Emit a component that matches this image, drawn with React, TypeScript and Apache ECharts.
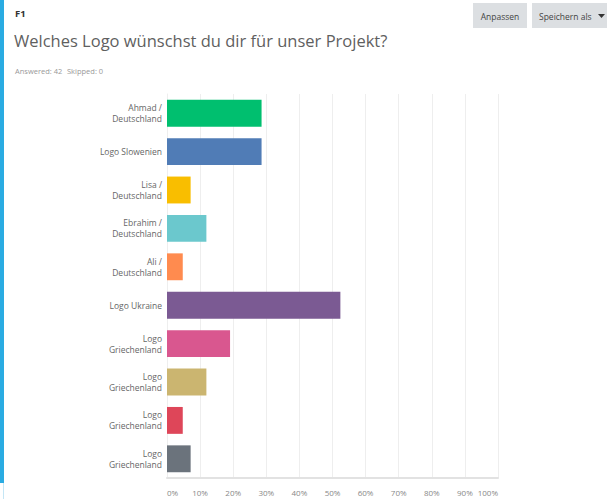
import React, { useEffect, useRef } from "react";
import * as echarts from "echarts";

const categories = [
  "Ahmad /\nDeutschland",
  "Logo Slowenien",
  "Lisa /\nDeutschland",
  "Ebrahim /\nDeutschland",
  "Ali /\nDeutschland",
  "Logo Ukraine",
  "Logo\nGriechenland",
  "Logo\nGriechenland",
  "Logo\nGriechenland",
  "Logo\nGriechenland",
];
const percentages = [28.57, 28.57, 7.14, 11.9, 4.76, 52.38, 19.05, 11.9, 4.76, 7.14];
const barColors = [
  "#00bf6f",
  "#507cb6",
  "#f9be00",
  "#6bc8cd",
  "#ff8b4f",
  "#7b5a93",
  "#d9578f",
  "#cbb570",
  "#de4659",
  "#6b737c",
];
const questionId = "F1";
const questionTitle = "Welches Logo wünschst du dir für unser Projekt?";
const answeredText = "Answered: 42";
const skippedText = "Skipped: 0";

const FONT = "'Open Sans', 'Noto Sans', sans-serif";

export default function App() {
  const ref = useRef<HTMLDivElement>(null);
  useEffect(() => {
    if (!ref.current) return;
    const chart = echarts.init(ref.current, null, { renderer: "svg" });
    chart.setOption({
      animation: false,
      backgroundColor: "#ffffff",
      textStyle: { fontFamily: FONT },
      grid: { left: 167, right: 109, top: 94, bottom: 21, containLabel: false },
      xAxis: {
        type: "value",
        min: 0,
        max: 100,
        interval: 10,
        axisLine: { show: true, lineStyle: { color: "#e2e2e2", width: 2 } },
        axisTick: { show: false },
        splitLine: { show: true, lineStyle: { color: "#eeeeee", width: 1 } },
        axisLabel: {
          formatter: "{value}%",
          fontSize: 8,
          color: "#888",
          margin: 10,
          fontFamily: FONT,
          alignMinLabel: "left",
          alignMaxLabel: "right",
        },
      },
      yAxis: {
        type: "category",
        inverse: true,
        data: categories,
        axisLine: { show: true, lineStyle: { color: "#eeeeee", width: 1 } },
        axisTick: { show: false },
        axisLabel: {
          fontSize: 8.5,
          lineHeight: 11,
          color: "#666",
          margin: 5,
          fontFamily: FONT,
        },
      },
      series: [
        {
          type: "bar",
          barCategoryGap: "30%",
          data: percentages.map((v, i) => ({
            value: v,
            itemStyle: { color: barColors[i] },
          })),
        },
      ],
      graphic: [
        { type: "rect", left: 0, top: 0, shape: { width: 4, height: 483 }, style: { fill: "#2aabe2" } },
        { type: "rect", left: 3, top: 483, shape: { width: 1, height: 16 }, style: { fill: "#c5e6f5" } },
        {
          type: "text",
          left: 15,
          top: 8,
          style: { text: questionId, fontSize: 9.5, fontWeight: "bold", fill: "#333", fontFamily: FONT },
        },
        {
          type: "text",
          left: 14,
          top: 32,
          style: { text: questionTitle, fontSize: 16.5, fill: "#5f5f5f", fontFamily: FONT },
        },
        {
          type: "text",
          left: 15,
          top: 67,
          style: { text: answeredText, fontSize: 7.5, fill: "#999", fontFamily: FONT },
        },
        {
          type: "text",
          left: 67,
          top: 67,
          style: { text: skippedText, fontSize: 7.5, fill: "#999", fontFamily: FONT },
        },
        { type: "rect", left: 473, top: 3, shape: { width: 54, height: 25 }, style: { fill: "#dcdfe2" } },
        {
          type: "text",
          x: 500,
          y: 16,
          style: {
            text: "Anpassen",
            fontSize: 8.5,
            fill: "#444",
            align: "center",
            verticalAlign: "middle",
            fontFamily: FONT,
          },
        },
        { type: "rect", left: 532, top: 3, shape: { width: 80, height: 25 }, style: { fill: "#dcdfe2" } },
        {
          type: "text",
          x: 539,
          y: 16,
          style: {
            text: "Speichern als",
            fontSize: 8.5,
            fill: "#444",
            align: "left",
            verticalAlign: "middle",
            fontFamily: FONT,
          },
        },
        {
          type: "polygon",
          shape: { points: [[598, 14], [605, 14], [601.5, 18]] },
          style: { fill: "#333" },
        },
      ],
    });
    return () => chart.dispose();
  }, []);
  return (
    <div
      ref={ref}
      style={{ position: "fixed", left: 0, top: 0, width: 607, height: 499, background: "#fff" }}
    />
  );
}
